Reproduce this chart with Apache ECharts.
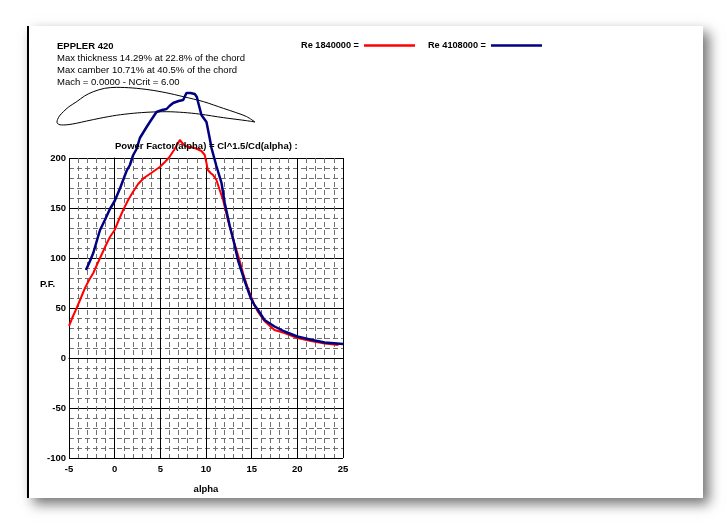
<!DOCTYPE html>
<html lang="en">
<head>
    <meta charset="UTF-8">
    <title>EPPLER 420 - Power Factor</title>
    <script src="https://cdn.jsdelivr.net/npm/echarts@6/dist/echarts.min.js"></script>
    <style>
        html, body { margin: 0; padding: 0; background: #fff; }
        body { width: 727px; height: 525px; position: relative; overflow: hidden; }
        .page {
            position: absolute; left: 27px; top: 26px; width: 674px; height: 472px;
            background: #fff; border-left: 2px solid #000;
            box-shadow: 6px 6px 12px rgba(0, 0, 0, 0.55);
        }
        #chart { position: absolute; left: 0; top: 0; width: 727px; height: 525px; }
    </style>
</head>
<body>
    <div class="page"></div>
    <div id="chart"></div>

    <script>
        // 两条曲线: alpha / power factor
        var seriesNames = ['Re 1840000 =', 'Re 4108000 ='];

        var redAlpha = [-5, -4.6, -4.16, -3.7, -3.25, -2.8, -2.34, -1.95, -1.6, -1.0, -0.52, 0, 0.45, 0.93, 1.48, 2.0, 2.57, 3.2, 4.0, 4.94,
            5.5, 6.0, 6.5, 6.9, 7.13, 7.4, 7.7, 8.2, 8.77, 9.5, 9.86, 10.05, 10.2, 10.5, 10.77, 11.14, 11.5, 11.87, 12.4, 13.1,
            13.6, 14.05, 14.5, 14.9, 15.3, 15.7, 16.4, 17.0, 17.5, 18.6, 20, 21.5, 23, 24.5];
        var redPF = [32, 41, 50, 60, 70, 78, 85, 93, 100, 112, 121, 128, 138, 148, 158, 166, 174, 180, 185, 191,
            196, 201, 208, 214, 218, 215, 212, 211, 210, 207, 203, 195, 188, 185, 183, 178, 168, 158, 138, 115,
            100, 85, 72, 62, 53, 46, 37, 32, 28, 25, 20, 17, 14.5, 13];

        var blueAlpha = [-3.14, -2.7, -2.34, -1.8, -1.6, -1.07, -0.52, 0, 0.6, 1.3, 1.67, 2.03, 2.4, 2.76, 3.5, 3.85, 4.58, 5.2, 5.68, 6.0,
            6.4, 7.0, 7.5, 7.7, 7.86, 8.3, 8.77, 9.0, 9.13, 9.5, 10.05, 10.4, 10.6, 11.14, 11.7, 12.05, 12.6, 13.0, 13.5, 14.2,
            14.9, 15.3, 15.7, 16.4, 17.5, 18.6, 20, 21.5, 23, 25];
        var bluePF = [88, 97, 105, 122, 128, 138, 149, 157, 170, 187, 193, 203, 209, 220, 231, 236, 246, 248, 249, 252,
            255, 257, 258, 259, 265, 265, 264, 261, 256, 243, 236, 220, 210, 192, 175, 155, 132, 118, 98, 78,
            60, 53, 48, 38, 31.5, 26.5, 21.5, 18.3, 15.6, 14];

        // 翼型轮廓 (弦长坐标)
        var foilX = [1, 0.958, 0.9, 0.84, 0.739, 0.638, 0.55, 0.47, 0.38, 0.30, 0.24, 0.183, 0.14, 0.1, 0.06, 0.032, 0.012, 0.003, 0,
            0.003, 0.015, 0.032, 0.06, 0.1, 0.15, 0.217, 0.3, 0.385, 0.47, 0.554, 0.64, 0.72, 0.84, 0.958, 1];
        var foilY = [0, 0.027, 0.049, 0.069, 0.103, 0.128, 0.148, 0.162, 0.172, 0.175, 0.17, 0.153, 0.132, 0.103, 0.077, 0.052, 0.03, 0.013, 0,
            -0.008, -0.014, -0.015, -0.013, -0.006, 0.005, 0.019, 0.034, 0.044, 0.05, 0.052, 0.048, 0.04, 0.022, 0.0066, 0];

        var infoLines = ['Max thickness 14.29% at 22.8% of the chord', 'Max camber 10.71% at 40.5% of the chord', 'Mach = 0.0000 - NCrit = 6.00'];

        function zip(a, b) {
            var out = [];
            for (var i = 0; i < a.length; i++) out.push([a[i], b[i]]);
            return out;
        }

        var FONT = '"Liberation Sans", Arial, sans-serif';
        var myChart = echarts.init(document.getElementById('chart'), null, { renderer: 'canvas' });

        var graphics = [{
            type: 'text', left: 57, top: 41,
            style: { text: 'EPPLER 420', font: 'bold 9.5px ' + FONT, fill: '#000' }
        }];
        for (var i = 0; i < infoLines.length; i++) {
            graphics.push({
                type: 'text', left: 57, top: 53 + i * 12.4,
                style: { text: infoLines[i], font: '9.5px ' + FONT, fill: '#000' }
            });
        }
        graphics.push({
            type: 'text', left: 40, top: 279,
            style: { text: 'P.F.', font: 'bold 9.5px ' + FONT, fill: '#000' }
        });

        var minorLine = { show: true, lineStyle: { color: '#707070', type: [5, 3], width: 1 } };

        var option = {
            animation: false,
            backgroundColor: 'transparent',
            title: {
                text: 'Power Factor(alpha) = Cl^1.5/Cd(alpha) :',
                left: 115, top: 141, padding: 0,
                textStyle: { fontFamily: FONT, fontSize: 9.5, fontWeight: 'bold', color: '#000' }
            },
            legend: {
                data: seriesNames,
                left: 301, top: 41, padding: 0,
                align: 'right',
                icon: 'rect', itemWidth: 51, itemHeight: 2.5, itemGap: 13,
                textStyle: { fontFamily: FONT, fontSize: 9.2, fontWeight: 'bold', color: '#000' }
            },
            graphic: graphics,
            grid: [
                { left: 69, right: 384, top: 158, bottom: 67 },
                { left: 57, right: 472, top: 82.4, bottom: 383.2 }
            ],
            xAxis: [{
                type: 'value', min: -5, max: 25, interval: 5,
                name: 'alpha', nameLocation: 'middle', nameGap: 26,
                nameTextStyle: { fontFamily: FONT, fontSize: 9.5, fontWeight: 'bold', color: '#000' },
                axisLine: { lineStyle: { color: '#000', width: 1 } },
                axisTick: { show: false },
                axisLabel: { margin: 6, fontFamily: FONT, fontSize: 9.5, fontWeight: 'bold', color: '#000' },
                splitLine: { show: true, lineStyle: { color: '#000', width: 1 } },
                minorTick: { show: false, splitNumber: 5 },
                minorSplitLine: minorLine
            }, {
                gridIndex: 1, type: 'value', min: 0, max: 1, show: false
            }],
            yAxis: [{
                type: 'value', min: -100, max: 200, interval: 50,
                axisLine: { show: true, lineStyle: { color: '#000', width: 1 } },
                axisTick: { show: false },
                axisLabel: { margin: 3, fontFamily: FONT, fontSize: 9.5, fontWeight: 'bold', color: '#000' },
                splitLine: { show: true, lineStyle: { color: '#000', width: 1 } },
                minorTick: { show: false, splitNumber: 5 },
                minorSplitLine: minorLine
            }, {
                gridIndex: 1, type: 'value', min: -0.1, max: 0.2, show: false
            }],
            series: [{
                name: 'airfoil', type: 'line', xAxisIndex: 1, yAxisIndex: 1,
                data: zip(foilX, foilY), symbol: 'none', smooth: 0.3, clip: false,
                lineStyle: { color: '#000', width: 1 }, silent: true
            }, {
                name: seriesNames[0], type: 'line', data: zip(redAlpha, redPF),
                symbol: 'none', clip: false, color: '#ff0000',
                lineStyle: { color: '#ff0000', width: 2 }
            }, {
                name: seriesNames[1], type: 'line', data: zip(blueAlpha, bluePF),
                symbol: 'none', clip: false, color: '#000080',
                lineStyle: { color: '#000080', width: 2.5 }
            }]
        };

        myChart.setOption(option);
    </script>
</body>
</html>
